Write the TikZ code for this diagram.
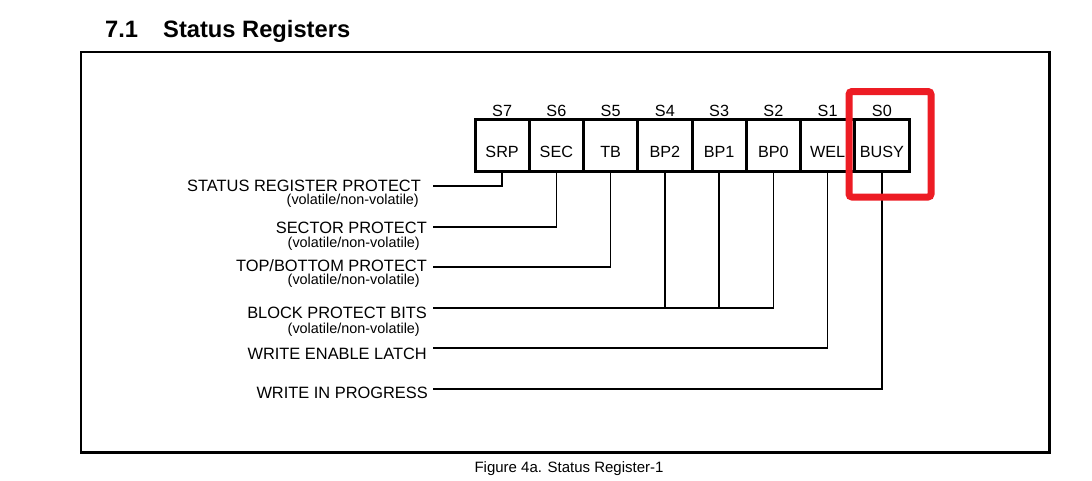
\documentclass[tikz,border=0pt]{standalone}
\usepackage{fontspec}
\setmainfont{Liberation Sans}
\definecolor{hired}{RGB}{237,28,36}
\begin{document}
\begin{tikzpicture}[x=1pt,y=-1pt,
  cell/.style={draw, line width=3pt, minimum width=54.25pt, minimum height=52pt,
    inner sep=0pt, outer sep=0pt, anchor=north west, text height=23pt, text depth=0pt,
    font=\fontsize{16.2}{19}\selectfont},
  bitlbl/.style={anchor=base, inner sep=0pt, font=\fontsize{16.2}{19}\selectfont},
  lbl/.style={anchor=base east, inner sep=0pt, font=\fontsize{16.4}{19}\selectfont},
  sub/.style={anchor=base east, inner sep=0pt, font=\fontsize{14.4}{16}\selectfont},
  conn/.style={draw, line width=1.6pt},
  frame/.style={draw, line width=2.3pt},
  hilite/.style={draw=hired, line width=7pt, rounded corners=3pt}
]
\useasboundingbox (0,0) rectangle (1092,480);

% title
\node[anchor=base west, inner sep=0pt, font=\fontsize{23.7}{28}\selectfont\bfseries] (num) at (105,37) {7.1};
\node[anchor=base west, inner sep=0pt, font=\fontsize{23.7}{28}\selectfont\bfseries] (ttl) at (163,37) {Status Registers};

% outer frame
\draw[frame] (81,52) rectangle (1049.5,452.5);

% register cells
\foreach \n/\t [count=\i from 0] in {7/SRP,6/SEC,5/TB,4/BP2,3/BP1,2/BP0,1/WEL,0/BUSY} {
  \node[cell] (c\n) at (475+\i*54.25,119.5) {\t};
  \node[bitlbl] (s\n) at (502.125+\i*54.25,116) {S\n};
}

% labels
\node[lbl] (t7) at (421,191) {STATUS REGISTER PROTECT};
\node[sub] (v7) at (419,204.5) {(volatile/non-volatile)};
\node[lbl] (t6) at (427,233) {SECTOR PROTECT};
\node[sub] (v6) at (420,247) {(volatile/non-volatile)};
\node[lbl] (t5) at (427,271) {TOP/BOTTOM PROTECT};
\node[sub] (v5) at (420,284.5) {(volatile/non-volatile)};
\node[lbl] (t4) at (427,318) {BLOCK PROTECT BITS};
\node[sub] (v4) at (420,333) {(volatile/non-volatile)};
\node[lbl] (t1) at (427,359) {WRITE ENABLE LATCH};
\node[lbl] (t0) at (428,398) {WRITE IN PROGRESS};

% line ends
\coordinate (p7) at (433,186);
\coordinate (p6) at (433,227);
\coordinate (p5) at (433,267);
\coordinate (p4) at (433,308);
\coordinate (p1) at (433,348);
\coordinate (p0) at (433,389);

% connectors
\draw[conn] (c7.south) |- (p7);
\draw[conn] (c6.south) |- (p6);
\draw[conn] (c5.south) |- (p5);
\draw[conn] (c2.south) |- (p4);
\draw[conn] (c3.south) -- (c3.south |- p4);
\draw[conn] (c4.south) -- (c4.south |- p4);
\draw[conn] (c1.south) |- (p1);
\draw[conn] (c0.south) |- (p0);

% highlight
\draw[hilite] (849,91.5) rectangle (931,197);

% caption
\node[anchor=base, inner sep=0pt, font=\fontsize{15}{18}\selectfont] (cap) at (569,472) {Figure 4a. Status Register-1};
\end{tikzpicture}
\end{document}
